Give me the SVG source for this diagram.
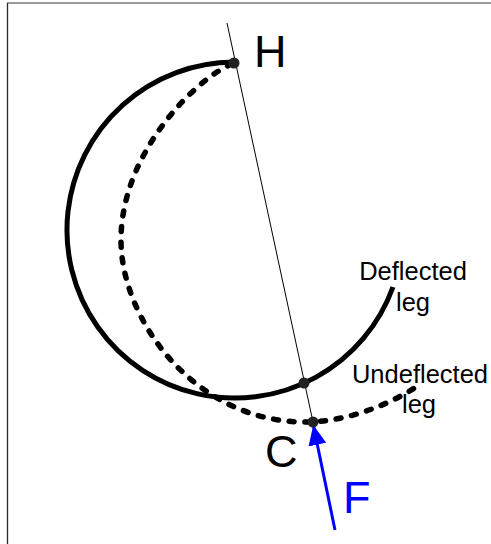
<svg xmlns="http://www.w3.org/2000/svg" width="491" height="544" viewBox="0 0 491 544">
  <style>
    .frameTop { stroke: #7a7a7a; stroke-width: 1.5; fill: none; }
    .frameLeft { stroke: #2a2a2a; stroke-width: 1.3; fill: none; }
    .leg { fill: none; stroke: #000; stroke-width: 5; }
    .undef { stroke-width: 5.5; stroke-dasharray: 5 10.7; stroke-linecap: round; }
    .axis { stroke: #000; stroke-width: 1; fill: none; }
    .dot { fill: #222; }
    .big { font-family: "Liberation Sans", Arial, sans-serif; font-size: 45px; fill: #000; }
    .small { font-family: "Liberation Sans", Arial, sans-serif; font-size: 25.5px; fill: #000; text-anchor: middle; }
    .force { stroke: #0000ff; stroke-width: 3; fill: none; }
  </style>
  <defs>
    <marker id="arrowF" viewBox="0 0 20 18" refX="19" refY="9" markerWidth="20" markerHeight="18" markerUnits="userSpaceOnUse" orient="auto">
      <path d="M0,0 L20,9 L0,18 Z" fill="#0000ff"/>
    </marker>
  </defs>
  <rect x="0" y="0" width="491" height="544" fill="#fff"/>
  <g id="frame">
    <line class="frameTop" x1="7" y1="3" x2="491" y2="3"/>
    <line class="frameLeft" x1="7.5" y1="3" x2="7.5" y2="544"/>
  </g>
  <g id="connectors">
    <path id="deflected-leg" class="leg" d="M234,62 A168,168 0 1 0 393,287"/>
    <path id="undeflected-leg" class="leg undef" d="M232,64 C200,76 121,150 121,240 C121,320 195,422 305,422 C350,422 395,402 422,383"/>
    <line id="axis-HC" class="axis" x1="227" y1="23" x2="313" y2="422"/>
    <line id="force-F" class="force" x1="335" y1="530" x2="313.5" y2="426" marker-end="url(#arrowF)"/>
  </g>
  <g id="node-H">
    <circle class="dot" cx="234" cy="63" r="5.5"/>
    <text class="big" x="254" y="67">H</text>
  </g>
  <g id="node-deflection">
    <circle class="dot" cx="304" cy="383" r="5.5"/>
  </g>
  <g id="node-C">
    <circle class="dot" cx="313" cy="422" r="5.5"/>
    <text class="big" x="265" y="467" font-size="43">C</text>
  </g>
  <g id="label-F">
    <text class="big" x="343" y="513" font-size="43" fill="#0000ff" style="fill:#0000ff">F</text>
  </g>
  <g id="label-deflected">
    <text class="small" x="413" y="280">Deflected</text>
    <text class="small" x="413" y="311">leg</text>
  </g>
  <g id="label-undeflected">
    <text class="small" x="420" y="383">Undeflected</text>
    <text class="small" x="419" y="413">leg</text>
  </g>
</svg>
